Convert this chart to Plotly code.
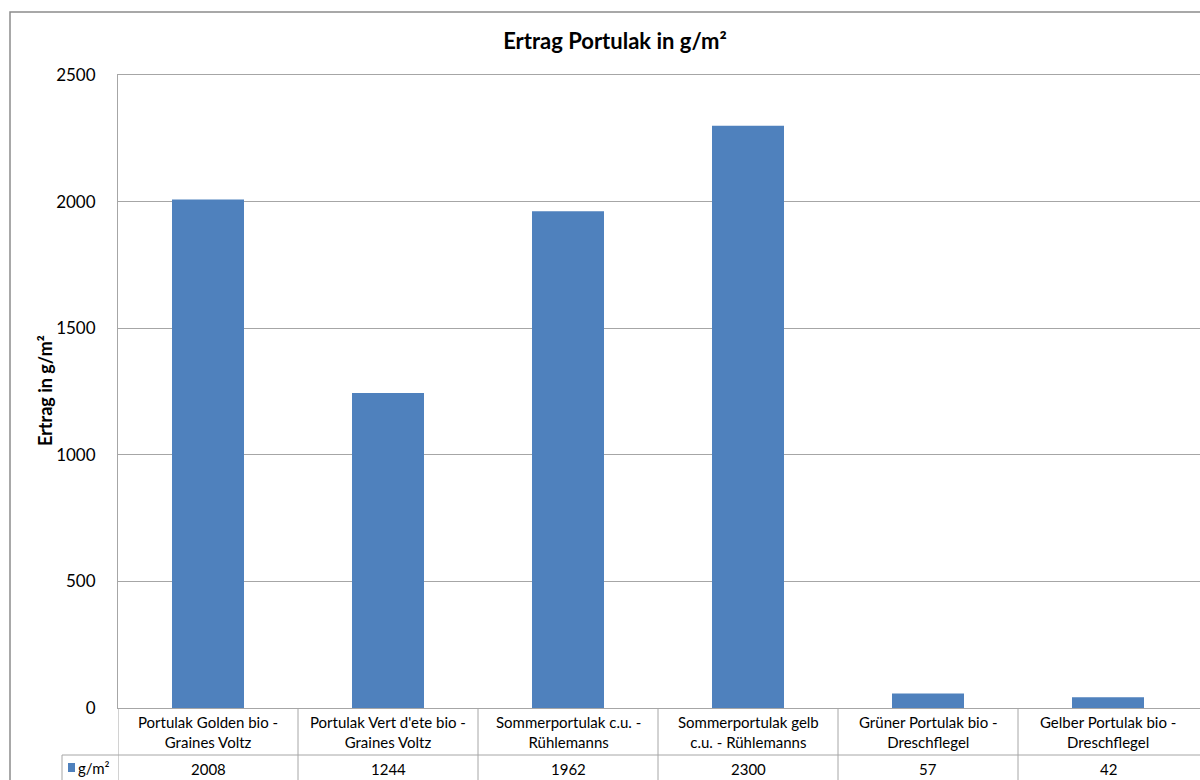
import plotly.graph_objects as go

categories = [
    "Portulak Golden bio -<br>Graines Voltz",
    "Portulak Vert d'ete bio -<br>Graines Voltz",
    "Sommerportulak c.u. -<br>Rühlemanns",
    "Sommerportulak gelb<br>c.u. - Rühlemanns",
    "Grüner Portulak bio -<br>Dreschflegel",
    "Gelber Portulak bio -<br>Dreschflegel",
]
values = [2008, 1244, 1962, 2300, 57, 42]
series_name = "g/m²"
y_ticks = [0, 500, 1000, 1500, 2000, 2500]

BAR = "#4f81bd"
LINE = "#a6a6a6"
FONT = "Lato"

W, H = 1200, 780
L, R, T, B = 118, 0, 75, 72
pw, ph = W - L - R, H - T - B
COL = 180.0  # pixel width of one category column

def px_x(p):  # pixel -> paper x
    return (p - L) / pw

def px_y(p):  # pixel -> paper y
    return (H - B - p) / ph

xs = list(range(len(categories)))
n = len(categories)

fig = go.Figure()
fig.add_trace(go.Bar(x=xs, y=values, marker_color=BAR, marker_line_width=0,
                     name=series_name, showlegend=False))

shapes = []
annotations = []

# outer chart border
shapes.append(dict(type="rect", xref="paper", yref="paper",
                   x0=px_x(10), x1=px_x(1260), y0=px_y(850), y1=px_y(12),
                   line=dict(color="#8c8c8c", width=1.5), layer="below"))

# data table: vertical lines at category boundaries (right edge lies off-frame)
for i in range(n):
    shapes.append(dict(type="line", xref="x", yref="paper",
                       x0=i - 0.5, x1=i - 0.5, y0=0, y1=px_y(800),
                       line=dict(color=LINE, width=1)))
# horizontal lines
shapes.append(dict(type="line", xref="paper", yref="paper",
                   x0=px_x(62), x1=px_x(1260), y0=px_y(755), y1=px_y(755),
                   line=dict(color=LINE, width=1)))
shapes.append(dict(type="line", xref="paper", yref="paper",
                   x0=px_x(62), x1=px_x(62), y0=px_y(755), y1=px_y(800),
                   line=dict(color=LINE, width=1)))
# legend key square
shapes.append(dict(type="rect", xref="paper", yref="paper",
                   x0=px_x(68), x1=px_x(75), y0=px_y(772), y1=px_y(763),
                   fillcolor=BAR, line=dict(width=0)))
annotations.append(dict(xref="paper", yref="paper", x=px_x(76), y=px_y(768),
                        text=series_name, showarrow=False, xanchor="left",
                        yanchor="middle", font=dict(family=FONT, size=15, color="#000")))

for i, (c, v) in enumerate(zip(categories, values)):
    annotations.append(dict(xref="x", yref="paper", x=i, y=px_y(731.5), text=c,
                            showarrow=False, xanchor="center", yanchor="middle",
                            font=dict(family=FONT, size=15, color="#000")))
    annotations.append(dict(xref="x", yref="paper", x=i, y=px_y(768.5), text=str(v),
                            showarrow=False, xanchor="center", yanchor="middle",
                            font=dict(family=FONT, size=15, color="#000")))

# y axis title
annotations.append(dict(xref="paper", yref="paper", x=px_x(45), y=px_y(391),
                        text="<b>Ertrag in g/m²</b>", textangle=-90, showarrow=False,
                        xanchor="center", yanchor="middle",
                        font=dict(family=FONT, size=18, color="#000")))

fig.update_layout(
    width=W, height=H,
    margin=dict(l=L, r=R, t=T, b=B, autoexpand=False),
    paper_bgcolor="white", plot_bgcolor="white",
    title=dict(text="<b>Ertrag Portulak in g/m²</b>", x=px_x(615), xref="paper",
               xanchor="center", y=1 - 41 / H, yanchor="middle",
               font=dict(family=FONT, size=22, color="#000")),
    bargap=0.6,
    shapes=shapes, annotations=annotations,
    xaxis=dict(range=[-0.5, -0.5 + pw / COL], showticklabels=False, showgrid=False,
               zeroline=False, showline=True, mirror=True, linecolor=LINE,
               linewidth=1, fixedrange=True),
    yaxis=dict(range=[0, 2500], tickvals=y_ticks, showgrid=True, gridcolor=LINE,
               gridwidth=1, zeroline=False, showline=True, linecolor=LINE,
               linewidth=1, mirror=False, ticks="", ticklabelstandoff=18,
               tickfont=dict(family=FONT, size=17, color="#000")),
    font=dict(family=FONT),
)

fig.write_html("out.html", config={"displayModeBar": False},
               post_script="document.body.style.margin='0';document.body.style.overflow='hidden';")
